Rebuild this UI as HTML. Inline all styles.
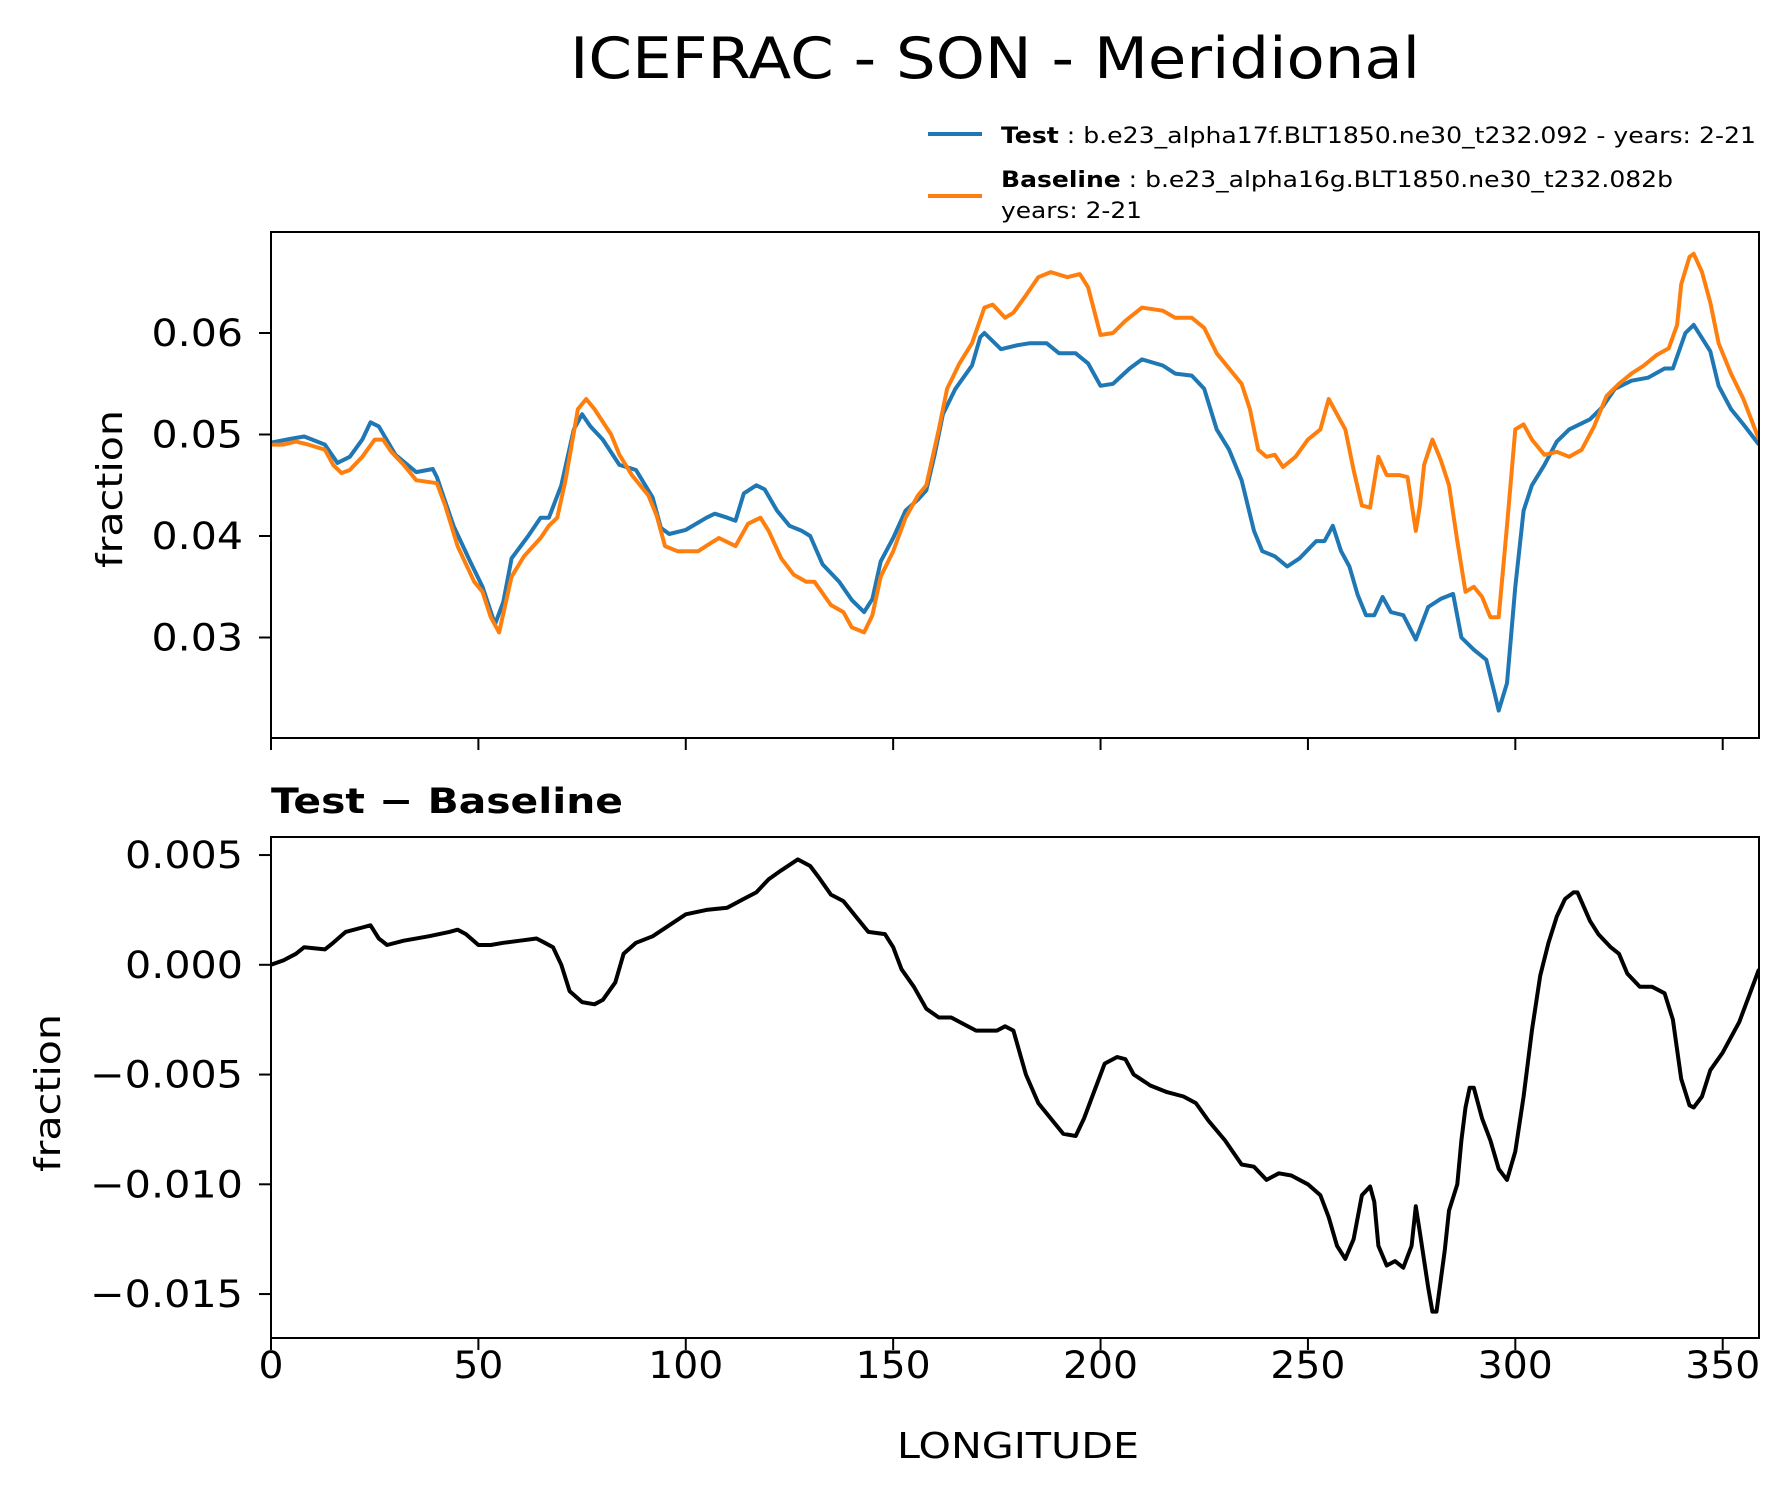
<!DOCTYPE html>
<html><head><meta charset="utf-8"><style>
body{margin:0;background:#fff}
svg{display:block;font-family:"DejaVu Sans","Liberation Sans",sans-serif}
</style></head><body>
<svg id="chart" width="1791" height="1496" viewBox="0 0 1791 1496">
<text x="995" y="78" font-size="57" text-anchor="middle" textLength="850" lengthAdjust="spacingAndGlyphs">ICEFRAC - SON - Meridional</text>
<g>
<line x1="928" y1="134" x2="982" y2="134" stroke="#1f77b4" stroke-width="4"/>
<text x="1001" y="143" font-size="22" textLength="755" lengthAdjust="spacingAndGlyphs"><tspan font-weight="bold">Test</tspan> : b.e23_alpha17f.BLT1850.ne30_t232.092 - years: 2-21</text>
<line x1="928" y1="196" x2="982" y2="196" stroke="#ff7f0e" stroke-width="4"/>
<text x="1001" y="187" font-size="22" textLength="672" lengthAdjust="spacingAndGlyphs"><tspan font-weight="bold">Baseline</tspan> : b.e23_alpha16g.BLT1850.ne30_t232.082b</text>
<text x="1001" y="218" font-size="22" textLength="141" lengthAdjust="spacingAndGlyphs">years: 2-21</text>
</g>
<text x="271" y="813" font-size="35" font-weight="bold" textLength="352" lengthAdjust="spacingAndGlyphs">Test − Baseline</text>
<text transform="translate(122,489) rotate(-90)" font-size="36" text-anchor="middle" textLength="158" lengthAdjust="spacingAndGlyphs">fraction</text>
<text transform="translate(60,1093) rotate(-90)" font-size="36" text-anchor="middle" textLength="158" lengthAdjust="spacingAndGlyphs">fraction</text>
<text x="1018" y="1458" font-size="36" text-anchor="middle" textLength="242" lengthAdjust="spacingAndGlyphs">LONGITUDE</text>
<g id="top"></g><g id="bot"></g>
</svg>
<script>
const testLon=[0,5,8,13,16,19,22,24,26,30,35,39,40,44,48,51,54,56,58,62,65,67,70,73,75,77,80,84,88,92,94,96,100,105,107,110,112,114,117,119,122,125,128,130,133,137,140,143,145,147,150,153,156,158,160,162,165,169,171,172,176,180,183,187,190,194,197,200,203,207,210,215,218,222,225,228,231,234,237,239,242,245,248,252,254,256,258,260,262,264,266,268,270,273,276,279,282,285,287,290,293,295,296,298,300,302,304,307,310,313,318,321,324,328,332,336,338,341,343,345,347,349,352,355,358.75];
const testVal=[0.0492,0.0496,0.0498,0.049,0.0472,0.0478,0.0495,0.0512,0.0508,0.048,0.0463,0.0466,0.0458,0.041,0.0375,0.035,0.0313,0.0335,0.0378,0.04,0.0418,0.0418,0.045,0.0505,0.052,0.0508,0.0495,0.047,0.0465,0.0438,0.0408,0.0402,0.0406,0.0418,0.0422,0.0418,0.0415,0.0442,0.045,0.0446,0.0425,0.041,0.0405,0.04,0.0372,0.0355,0.0337,0.0325,0.0338,0.0375,0.0398,0.0425,0.0436,0.0445,0.048,0.052,0.0545,0.0568,0.0596,0.06,0.0584,0.0588,0.059,0.059,0.058,0.058,0.057,0.0548,0.055,0.0565,0.0574,0.0568,0.056,0.0558,0.0545,0.0505,0.0485,0.0455,0.0405,0.0385,0.038,0.037,0.0378,0.0395,0.0395,0.041,0.0385,0.037,0.0342,0.0322,0.0322,0.034,0.0325,0.0322,0.0298,0.033,0.0338,0.0343,0.03,0.0288,0.0278,0.0245,0.0228,0.0255,0.035,0.0425,0.045,0.047,0.0493,0.0505,0.0515,0.0527,0.0545,0.0553,0.0556,0.0565,0.0565,0.06,0.0608,0.0595,0.0582,0.0548,0.0525,0.051,0.049];
const baseLon=[0,3,6,9,13,15,17,19,22,25,27,29,32,35,40,42,45,49,51,53,55,58,61,65,67,69,71,74,76,78,82,84,87,91,93,95,98,103,106,108,112,115,118,120,123,126,129,131,135,138,140,143,145,147,150,153,156,158,161,163,166,169,172,174,177,179,182,185,188,192,195,197,200,203,206,210,215,218,222,225,228,231,234,236,238,240,242,244,247,250,253,255,257,259,261,263,265,267,269,272,274,276,277,278,280,282,284,286,288,290,292,294,296,298,300,302,304,307,310,313,316,319,322,325,328,331,334,337,339,340,342,343,345,347,349,352,355,358.75];
const baseVal=[0.049,0.049,0.0493,0.049,0.0485,0.047,0.0462,0.0465,0.0478,0.0495,0.0495,0.0483,0.047,0.0455,0.0452,0.043,0.039,0.0355,0.0345,0.032,0.0305,0.036,0.038,0.0398,0.041,0.0418,0.0455,0.0525,0.0535,0.0525,0.05,0.048,0.046,0.044,0.042,0.039,0.0385,0.0385,0.0393,0.0398,0.039,0.0412,0.0418,0.0405,0.0378,0.0362,0.0355,0.0355,0.0332,0.0325,0.031,0.0305,0.0322,0.036,0.0385,0.0418,0.044,0.045,0.0505,0.0545,0.057,0.059,0.0625,0.0628,0.0615,0.062,0.0637,0.0655,0.066,0.0655,0.0658,0.0645,0.0598,0.06,0.0612,0.0625,0.0622,0.0615,0.0615,0.0605,0.058,0.0565,0.055,0.0525,0.0485,0.0478,0.048,0.0468,0.0478,0.0495,0.0505,0.0535,0.052,0.0505,0.0465,0.043,0.0428,0.0478,0.046,0.046,0.0458,0.0405,0.043,0.047,0.0495,0.0475,0.045,0.0395,0.0345,0.035,0.034,0.032,0.032,0.041,0.0505,0.051,0.0495,0.048,0.0483,0.0478,0.0485,0.0508,0.0538,0.055,0.056,0.0568,0.0578,0.0585,0.0608,0.0648,0.0675,0.0678,0.066,0.063,0.059,0.056,0.0535,0.0495];
const diffLon=[0,3,6,8,13,15,18,22,24,26,28,32,38,43,45,47,50,53,56,60,64,66,68,70,72,75,78,80,83,85,88,92,96,100,105,110,114,117,120,123,127,130,132,135,138,141,144,148,150,152,155,158,161,164,167,170,175,177,179,182,185,188,191,194,196,199,201,204,206,208,212,216,220,223,226,230,234,237,240,243,246,250,253,255,257,259,261,263,265,266,267,269,271,273,275,276,277,279,280,281,283,284,286,287,288,289,290,292,294,296,298,300,302,304,306,308,310,312,314,315,318,320,323,325,327,330,333,336,338,340,342,343,345,347,350,354,358.75];
const diffVal=[0,0.0002,0.0005,0.0008,0.0007,0.001,0.0015,0.0017,0.0018,0.0012,0.0009,0.0011,0.0013,0.0015,0.0016,0.0014,0.0009,0.0009,0.001,0.0011,0.0012,0.001,0.0008,0,-0.0012,-0.0017,-0.0018,-0.0016,-0.0008,0.0005,0.001,0.0013,0.0018,0.0023,0.0025,0.0026,0.003,0.0033,0.0039,0.0043,0.0048,0.0045,0.004,0.0032,0.0029,0.0022,0.0015,0.0014,0.0008,-0.0002,-0.001,-0.002,-0.0024,-0.0024,-0.0027,-0.003,-0.003,-0.0028,-0.003,-0.005,-0.0063,-0.007,-0.0077,-0.0078,-0.007,-0.0055,-0.0045,-0.0042,-0.0043,-0.005,-0.0055,-0.0058,-0.006,-0.0063,-0.0071,-0.008,-0.0091,-0.0092,-0.0098,-0.0095,-0.0096,-0.01,-0.0105,-0.0115,-0.0128,-0.0134,-0.0125,-0.0105,-0.0101,-0.0108,-0.0128,-0.0137,-0.0135,-0.0138,-0.0128,-0.011,-0.0122,-0.0147,-0.0158,-0.0158,-0.013,-0.0112,-0.01,-0.008,-0.0065,-0.0056,-0.0056,-0.007,-0.008,-0.0093,-0.0098,-0.0085,-0.006,-0.003,-0.0005,0.001,0.0022,0.003,0.0033,0.0033,0.002,0.0014,0.0008,0.0005,-0.0004,-0.001,-0.001,-0.0013,-0.0025,-0.0052,-0.0064,-0.0065,-0.006,-0.0048,-0.004,-0.0026,-0.0002];
const xTicks=[0,50,100,150,200,250,300,350];
const topTicks=[0.03,0.04,0.05,0.06];
const topTickLabels=["0.03","0.04","0.05","0.06"];
const botTicks=[-0.015,-0.01,-0.005,0,0.005];
const botTickLabels=["−0.015","−0.010","−0.005","0.000","0.005"];

const NS="http://www.w3.org/2000/svg";
const X0=271,X1=1759,XMAX=358.75;
const xs=v=>X0+(v/XMAX)*(X1-X0);
const yTop=v=>333+(0.06-v)*10150;
const yBot=v=>964.8-v*21950;
function labLen(s){let n=0;for(const c of s){n+=c==='.'?12:(c==='−'?35:26.5);}return n;}
function mk(p,tag,attrs){const e=document.createElementNS(NS,tag);for(const k in attrs)e.setAttribute(k,attrs[k]);p.appendChild(e);return e;}
function panel(g,top,bot,ysc,ticks,labels,series,showX,pname){
  ticks.forEach((t,i)=>{
    const y=ysc(t);
    const tk=mk(g,'line',{x1:X0-12,x2:X0,y1:y,y2:y,stroke:'#000','stroke-width':2});
    
    
    const tl=mk(g,'text',{x:X0-28,y:y+13,'font-size':37,'text-anchor':'end',textLength:labLen(labels[i]),lengthAdjust:'spacingAndGlyphs'});
    tl.textContent=labels[i];
    
    
  });
  xTicks.forEach(t=>{
    const x=xs(t);
    const tk=mk(g,'line',{x1:x,x2:x,y1:bot,y2:bot+12,stroke:'#000','stroke-width':2});
    
    
    if(showX){
      const s=String(t);
      const tl=mk(g,'text',{x:x,y:bot+40,'font-size':37,'text-anchor':'middle',textLength:s.length*25,lengthAdjust:'spacingAndGlyphs'});
      tl.textContent=s;
      
      
    }
  });
  const cp='clip-'+pname;
  const defs=mk(g,'defs',{});
  mk(mk(defs,'clipPath',{id:cp}),'rect',{x:X0,y:top,width:X1-X0,height:bot-top});
  series.forEach(s=>{
    const d=s.lon.map((l,i)=>(i?'L':'M')+xs(l).toFixed(1)+','+ysc(s.val[i]).toFixed(1)).join('');
    const p=mk(g,'path',{d:d,fill:'none',stroke:s.color,'stroke-width':4,'stroke-linejoin':'round','clip-path':'url(#'+cp+')'});
    
    
  });
  const fr=mk(g,'rect',{x:X0,y:top,width:X1-X0,height:bot-top,fill:'none',stroke:'#000','stroke-width':2});
  
  
}
panel(document.getElementById('top'),232,738,yTop,topTicks,topTickLabels,
 [{lon:testLon,val:testVal,color:'#1f77b4',name:'test-line'},{lon:baseLon,val:baseVal,color:'#ff7f0e',name:'baseline-line'}],false,'top');
panel(document.getElementById('bot'),837,1338,yBot,botTicks,botTickLabels,
 [{lon:diffLon,val:diffVal,color:'#000',name:'difference-line'}],true,'bottom');
</script>
</body></html>
